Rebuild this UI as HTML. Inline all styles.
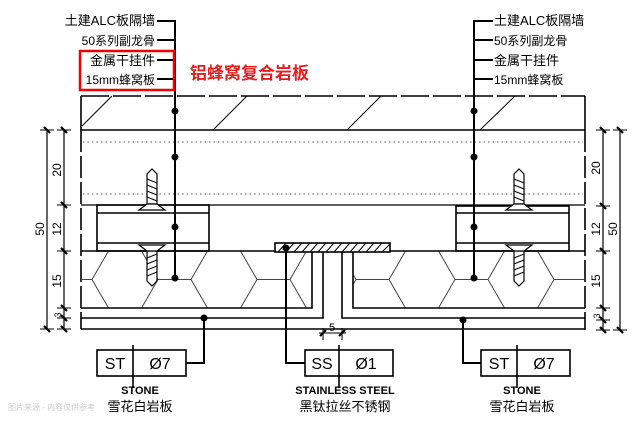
<!DOCTYPE html>
<html><head><meta charset="utf-8"><style>
html,body{margin:0;padding:0;background:#fff;width:641px;height:422px;overflow:hidden}
text{font-family:"Liberation Sans","Noto Sans CJK SC",sans-serif}
</style></head><body>
<svg width="641" height="422" viewBox="0 0 641 422" xmlns="http://www.w3.org/2000/svg">
<defs>
<pattern id="hex" x="92" y="251" width="99" height="57" patternUnits="userSpaceOnUse">
<path d="M16.5 0 H49.5 M16.5 57 H49.5 M49.5 0 L66 28.5 L49.5 57 M66 28.5 H99 M16.5 0 L0 28.5 L16.5 57" stroke="#444" stroke-width="1" fill="none"/>
</pattern>
<g id="screwU"><path d="M-5 -33 L0 -38 L5 -33 V-3 H-5 Z" fill="#fff" stroke="#000" stroke-width="1.2"/>
<path d="M-5 -28 L5 -24 M-5 -22 L5 -18 M-5 -16 L5 -12 M-5 -10 L5 -6" stroke="#000"/>
<path d="M-13 3 L-5 -3 H5 L13 3 Z" fill="#fff" stroke="#000" stroke-width="1.2"/></g>
</defs>
<g stroke="#000" fill="none" stroke-width="1.6">
<line x1="81" y1="96" x2="585" y2="96" stroke-dasharray="28 4"/>
<line x1="81" y1="130" x2="585" y2="130"/>
<line x1="81" y1="96" x2="81" y2="130"/><line x1="585" y1="96" x2="585" y2="130"/>
<g stroke-width="1"><line x1="82" y1="126" x2="112" y2="96"/><line x1="213" y1="130" x2="247" y2="96"/><line x1="347" y1="130" x2="381" y2="96"/><line x1="480" y1="130" x2="515" y2="96"/></g>
<line x1="81" y1="130" x2="81" y2="329" stroke-dasharray="22 4"/>
<line x1="585" y1="130" x2="585" y2="330" stroke-dasharray="22 4"/>
<g stroke-width="1" stroke-dasharray="1.5 3" stroke="#555"><line x1="83" y1="142" x2="583" y2="142"/><line x1="83" y1="194" x2="583" y2="194"/></g>
<line x1="81" y1="205" x2="585" y2="205" stroke-width="1.2"/>
<rect x="97" y="205" width="112" height="46"/><line x1="97" y1="213" x2="209" y2="213"/><line x1="97" y1="243" x2="209" y2="243"/>
<rect x="456" y="206" width="113" height="45"/><line x1="456" y1="213" x2="569" y2="213"/><line x1="456" y1="243" x2="569" y2="243"/>
</g>
<rect x="82" y="251" width="230" height="57" fill="url(#hex)"/>
<rect x="353" y="251" width="231" height="57" fill="url(#hex)"/>
<g stroke="#000" fill="none" stroke-width="1.6">
<line x1="81" y1="251" x2="275" y2="251"/><line x1="390" y1="251" x2="585" y2="251"/>
<polyline points="81,308 312,308 312,252"/><polyline points="81,318 323,318 323,252"/>
<polyline points="585,308 353,308 353,252"/><polyline points="585,318 342,318 342,252"/>
<line x1="81" y1="329" x2="585" y2="329"/>
<rect x="275" y="243" width="115" height="9" fill="#fff"/>
</g>
<g stroke="#000" stroke-width="1">
<path d="M278 252 L286 243 M286 252 L294 243 M294 252 L302 243 M302 252 L310 243 M310 252 L318 243 M318 252 L326 243 M326 252 L334 243 M334 252 L342 243 M342 252 L350 243 M350 252 L358 243 M358 252 L366 243 M366 252 L374 243 M374 252 L382 243 M382 252 L390 244"/>
</g>
<use href="#screwU" x="152" y="207"/>
<use href="#screwU" transform="translate(152,248) scale(1,-1)"/>
<use href="#screwU" x="519" y="207"/>
<use href="#screwU" transform="translate(519,248) scale(1,-1)"/>
<g stroke="#000" fill="none" stroke-width="2">
<polyline points="157,21 175,21 175,278"/><line x1="157" y1="40" x2="175" y2="40"/><line x1="157" y1="60" x2="175" y2="60"/><line x1="157" y1="79" x2="175" y2="79"/>
<polyline points="493,21 474,21 474,278"/><line x1="474" y1="40" x2="493" y2="40"/><line x1="474" y1="60" x2="493" y2="60"/><line x1="474" y1="79" x2="493" y2="79"/>
<polyline points="204,318 204,363 186,363"/>
<polyline points="463,320 463,363 481,363"/>
<polyline points="286,248 286,363 305,363"/>
</g>
<g fill="#000">
<circle cx="175" cy="111" r="3.5"/><circle cx="175" cy="157" r="3.5"/><circle cx="175" cy="227" r="3.5"/><circle cx="175" cy="278" r="3.5"/>
<circle cx="474" cy="111" r="3.5"/><circle cx="474" cy="157" r="3.5"/><circle cx="474" cy="227" r="3.5"/><circle cx="474" cy="278" r="3.5"/>
<circle cx="204" cy="318" r="3.5"/><circle cx="463" cy="320" r="3.5"/><circle cx="286" cy="248" r="3.5"/>
</g>
<rect x="80" y="51" width="94" height="39" fill="none" stroke="#e00" stroke-width="2.5"/>
<g font-size="13" fill="#000">
<text x="155" y="25" text-anchor="end">土建ALC板隔墙</text>
<text x="155" y="45" text-anchor="end" font-size="12">50系列副龙骨</text>
<text x="155" y="65" text-anchor="end">金属干挂件</text>
<text x="155" y="84" text-anchor="end" font-size="12">15mm蜂窝板</text>
<text x="494" y="25">土建ALC板隔墙</text>
<text x="494" y="45" font-size="12">50系列副龙骨</text>
<text x="494" y="65">金属干挂件</text>
<text x="494" y="84" font-size="12">15mm蜂窝板</text>
</g>
<text x="190" y="79" font-size="17" font-weight="bold" fill="#e02020">铝蜂窝复合岩板</text>
<g stroke="#000" fill="none" stroke-width="1.6">
<rect x="97" y="350" width="89" height="26"/><line x1="133" y1="345" x2="133" y2="388"/>
<rect x="305" y="350" width="88" height="26"/><line x1="339" y1="345" x2="339" y2="388"/>
<rect x="481" y="350" width="89" height="26"/><line x1="517" y1="345" x2="517" y2="388"/>
</g>
<g font-size="16" fill="#000" text-anchor="middle">
<text x="115" y="369">ST</text><text x="160" y="369">Ø7</text>
<text x="322" y="369">SS</text><text x="366" y="369">Ø1</text>
<text x="499" y="369">ST</text><text x="544" y="369">Ø7</text>
</g>
<g font-size="11" font-weight="bold" text-anchor="middle" fill="#000">
<text x="140" y="394">STONE</text><text x="345" y="394">STAINLESS STEEL</text><text x="522" y="394">STONE</text>
</g>
<g font-size="13" text-anchor="middle" fill="#000">
<text x="140" y="411">雪花白岩板</text><text x="345" y="411">黑钛拉丝不锈钢</text><text x="522" y="411">雪花白岩板</text>
</g>
<text x="8" y="410" font-size="8" fill="#ccc">图片来源 - 内容仅供参考</text>
<g stroke="#000" stroke-width="1.2">
<line x1="47" y1="130" x2="47" y2="329"/><line x1="64" y1="130" x2="64" y2="329"/>
<line x1="603" y1="130" x2="603" y2="330"/><line x1="620" y1="130" x2="620" y2="330"/>
<g stroke-width="1">
<line x1="40" y1="130" x2="54" y2="130"/><line x1="40" y1="329" x2="54" y2="329"/>
<line x1="57" y1="130" x2="71" y2="130"/><line x1="57" y1="205" x2="71" y2="205"/><line x1="57" y1="251" x2="71" y2="251"/><line x1="57" y1="308" x2="71" y2="308"/><line x1="57" y1="318" x2="71" y2="318"/><line x1="57" y1="329" x2="71" y2="329"/>
<line x1="596" y1="130" x2="610" y2="130"/><line x1="596" y1="206" x2="610" y2="206"/><line x1="596" y1="251" x2="610" y2="251"/><line x1="596" y1="308" x2="610" y2="308"/><line x1="596" y1="320" x2="610" y2="320"/><line x1="596" y1="330" x2="610" y2="330"/>
<line x1="613" y1="130" x2="627" y2="130"/><line x1="613" y1="330" x2="627" y2="330"/>
<line x1="319" y1="333" x2="346" y2="333"/><line x1="323" y1="328" x2="323" y2="340"/><line x1="342" y1="328" x2="342" y2="340"/>
</g>
<g stroke-width="2.2">
<path d="M44 127 L50 133 M44 326 L50 332 M61 127 L67 133 M61 202 L67 208 M61 248 L67 254 M61 305 L67 311 M61 315 L67 321 M61 326 L67 332 M600 127 L606 133 M600 203 L606 209 M600 248 L606 254 M600 305 L606 311 M600 317 L606 323 M600 327 L606 333 M617 127 L623 133 M617 327 L623 333 M320 336 L326 330 M339 336 L345 330"/>
</g>
</g>
<g font-size="12" fill="#000" text-anchor="middle">
<text transform="translate(44,229) rotate(-90)">50</text>
<text transform="translate(61,170) rotate(-90)">20</text>
<text transform="translate(61,229) rotate(-90)">12</text>
<text transform="translate(61,281) rotate(-90)">15</text>
<text transform="translate(61,315) rotate(-90)" font-size="9">3</text>
<text transform="translate(600,168) rotate(-90)">20</text>
<text transform="translate(600,229) rotate(-90)">12</text>
<text transform="translate(600,281) rotate(-90)">15</text>
<text transform="translate(600,316) rotate(-90)" font-size="9">3</text>
<text transform="translate(617,229) rotate(-90)">50</text>
<text x="332" y="331" font-size="11">5</text>
</g>
</svg>
</body></html>
